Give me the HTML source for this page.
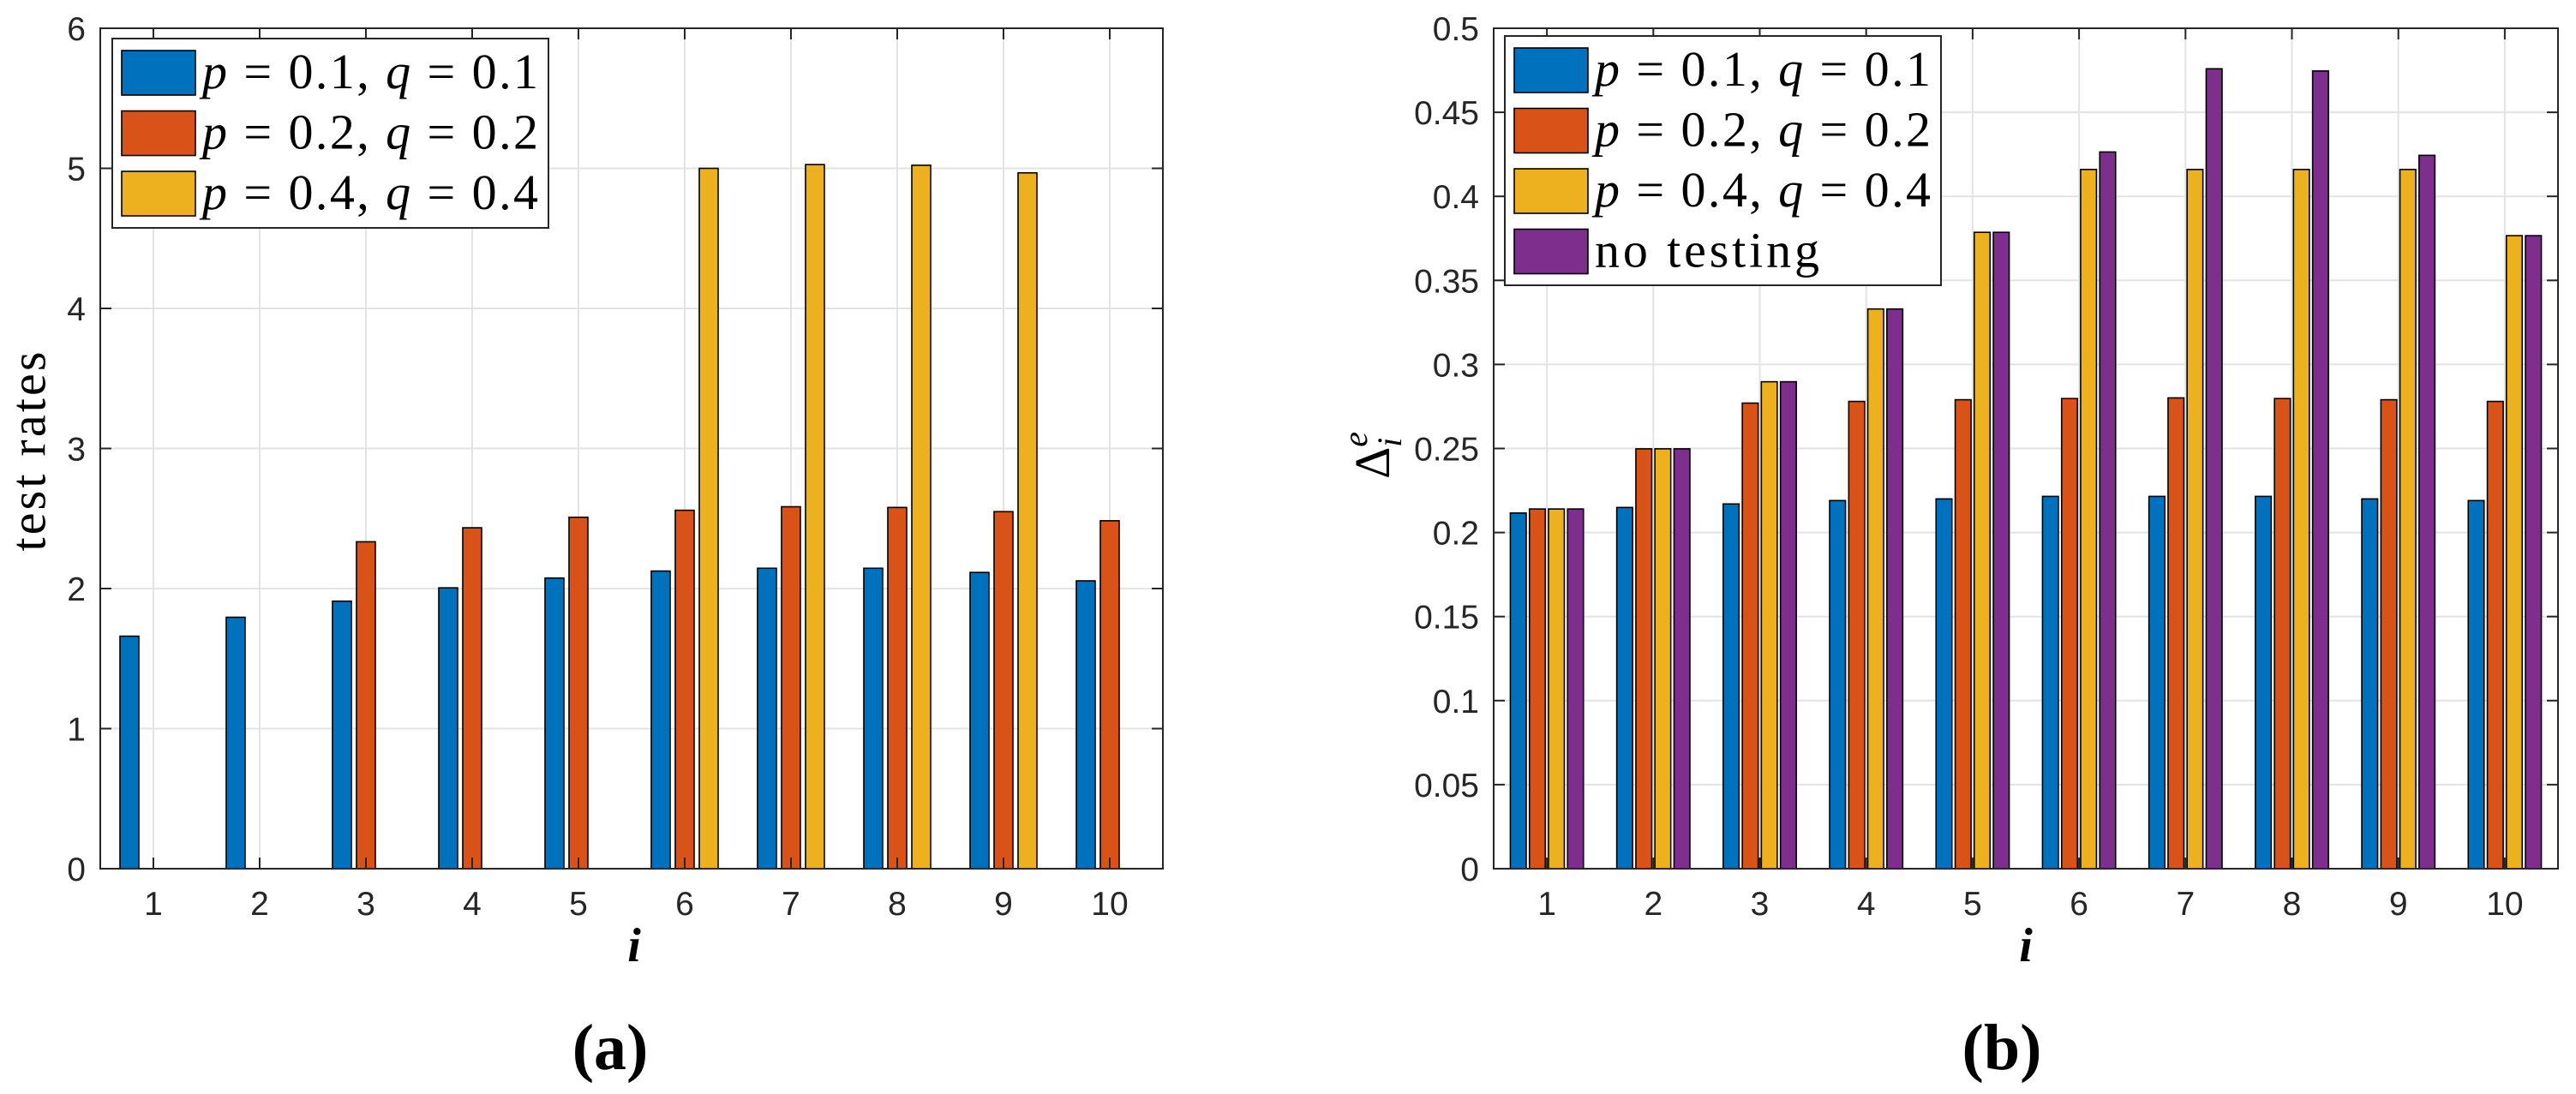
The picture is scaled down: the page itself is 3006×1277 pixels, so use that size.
<!DOCTYPE html>
<html><head><meta charset="utf-8"><style>
html,body{margin:0;padding:0;background:#fff;}
svg{display:block;}
.tick{font-family:"Liberation Sans",sans-serif;font-size:39px;fill:#262626;}
.leg{font-family:"Liberation Serif",serif;font-size:58px;fill:#000;}
</style></head><body>
<svg id="fig" width="3006" height="1277" viewBox="0 0 3006 1277" xmlns="http://www.w3.org/2000/svg">
<g id="pa"></g>
<g id="pb"></g>
<text x="33" y="527" transform="rotate(-90 33 527)" text-anchor="middle" dominant-baseline="central" font-family="Liberation Serif, serif" font-size="58" textLength="233">test rates</text>
<text x="740" y="1122" text-anchor="middle" font-family="Liberation Serif, serif" font-style="italic" font-weight="bold" font-size="56">i</text>
<text x="2364" y="1122" text-anchor="middle" font-family="Liberation Serif, serif" font-style="italic" font-weight="bold" font-size="56">i</text>
<text x="1621" y="559" transform="rotate(-90 1621 559)" font-family="Liberation Serif, serif" font-size="58">Δ<tspan font-style="italic" font-size="40" dy="-26">e</tspan><tspan font-style="italic" font-size="40" dx="-18" dy="40">i</tspan></text>
<text x="712" y="1248" text-anchor="middle" font-family="Liberation Serif, serif" font-weight="bold" font-size="76">(a)</text>
<text x="2336" y="1248" text-anchor="middle" font-family="Liberation Serif, serif" font-weight="bold" font-size="76">(b)</text>
</svg>
<script>
// ----- data -----
const categories = ["1","2","3","4","5","6","7","8","9","10"];
const aSeries1 = [1.66,1.795,1.91,2.005,2.075,2.125,2.145,2.145,2.115,2.055];
const aSeries2 = [0,0,2.334,2.434,2.509,2.559,2.584,2.579,2.549,2.484];
const aSeries3 = [0,0,0,0,0,5.0,5.027,5.022,4.968,0];
const aTicks = ["0","1","2","3","4","5","6"];
const bSeries1 = [0.2116,0.2149,0.217,0.219,0.220,0.2215,0.2215,0.2215,0.220,0.219];
const bSeries2 = [0.214,0.2498,0.277,0.278,0.279,0.2797,0.2801,0.2797,0.279,0.278];
const bSeries3 = [0.214,0.2498,0.2897,0.333,0.3786,0.416,0.416,0.416,0.416,0.3766];
const bSeries4 = [0.214,0.2498,0.2897,0.333,0.3786,0.4264,0.4759,0.4746,0.4244,0.3766];
const bTicks = ["0","0.05","0.1","0.15","0.2","0.25","0.3","0.35","0.4","0.45","0.5"];
const legendA = ["p = 0.1, q = 0.1","p = 0.2, q = 0.2","p = 0.4, q = 0.4"];
const legendB = ["p = 0.1, q = 0.1","p = 0.2, q = 0.2","p = 0.4, q = 0.4","no testing"];
const colors = ["#0072BD","#D95319","#EDB120","#7E2F8E"];
const NS = "http://www.w3.org/2000/svg";
function mk(parent, tag, attrs){const e=document.createElementNS(NS,tag);for(const k in attrs)e.setAttribute(k,attrs[k]);parent.appendChild(e);return e;}

function drawChart(g, L, R, T, B, ymax, ticks, series, offsets, bw, legend, leg, prefix){
  const n = categories.length;
  const xs = i => L + (i + 0.5) * (R - L) / n;
  const ys = v => B - v / ymax * (B - T);
  ticks.forEach(t=>{
    const y = ys(parseFloat(t));
    const gl = mk(g,'line',{x1:L,x2:R,y1:y,y2:y,stroke:'#e3e3e3','stroke-width':2});
    
    
  });
  categories.forEach((c,i)=>{
    const x = xs(i);
    const gl = mk(g,'line',{x1:x,x2:x,y1:T,y2:B,stroke:'#e3e3e3','stroke-width':2});
    
    
  });
  series.forEach((s,si)=>{
    s.forEach((v,i)=>{
      if(v<=0) return;
      const x = xs(i) + offsets[si] - bw/2;
      const r = mk(g,'rect',{x:x,y:ys(v),width:bw,height:B-ys(v),fill:colors[si],stroke:'#000','stroke-width':1.6});
      
      
    });
  });
  const box = mk(g,'rect',{x:L,y:T,width:R-L,height:B-T,fill:'none',stroke:'#262626','stroke-width':2});
  
  
  ticks.forEach(t=>{
    const y = ys(parseFloat(t));
    mk(g,'line',{x1:L,x2:L+13,y1:y,y2:y,stroke:'#262626','stroke-width':2});
    mk(g,'line',{x1:R,x2:R-13,y1:y,y2:y,stroke:'#262626','stroke-width':2});
    const tl = mk(g,'text',{x:L-17,y:y+14,'text-anchor':'end',class:'tick'});
    tl.textContent = t;
    
    
  });
  categories.forEach((c,i)=>{
    const x = xs(i);
    mk(g,'line',{x1:x,x2:x,y1:B,y2:B-13,stroke:'#262626','stroke-width':2});
    mk(g,'line',{x1:x,x2:x,y1:T,y2:T+13,stroke:'#262626','stroke-width':2});
    const tl = mk(g,'text',{x:x,y:B+54,'text-anchor':'middle',class:'tick'});
    tl.textContent = c;
    
    
  });
  const lg = mk(g,'g',{});
  
  
  mk(lg,'rect',{x:leg.x,y:leg.y,width:leg.w,height:leg.h,fill:'#fff',stroke:'#262626','stroke-width':2});
  legend.forEach((lab,k)=>{
    const y0 = leg.y + 14 + k*70.5;
    const ent = mk(lg,'g',{});
    
    
    mk(ent,'rect',{x:leg.x+11,y:y0,width:86,height:52,fill:colors[k],stroke:'#000','stroke-width':1.6});
    const t = mk(ent,'text',{x:leg.x+105,y:y0+44,class:'leg'});
    if(lab==='no testing'){ t.textContent = lab; t.setAttribute('textLength', 262); }
    else {
      const parts = lab.split(/(p|q)/);
      parts.forEach(p=>{
        if(p==='') return;
        const ts = mk(t,'tspan',{});
        if(p==='p'||p==='q'){ ts.setAttribute('font-style','italic'); }
        ts.textContent = p;
      });
      t.setAttribute('textLength', 392);
    }
  });
}
drawChart(document.getElementById('pa'), 117, 1357, 33, 1014, 6, aTicks,
  [aSeries1,aSeries2,aSeries3], [-28,0,28], 22, legendA, {x:131,y:45,w:509,h:221}, 'a');
drawChart(document.getElementById('pb'), 1743, 2985, 33, 1014, 0.5, bTicks,
  [bSeries1,bSeries2,bSeries3,bSeries4], [-33.4,-11.1,11.1,33.4], 18.5, legendB, {x:1756,y:42,w:509,h:291}, 'b');
</script>
</body></html>
